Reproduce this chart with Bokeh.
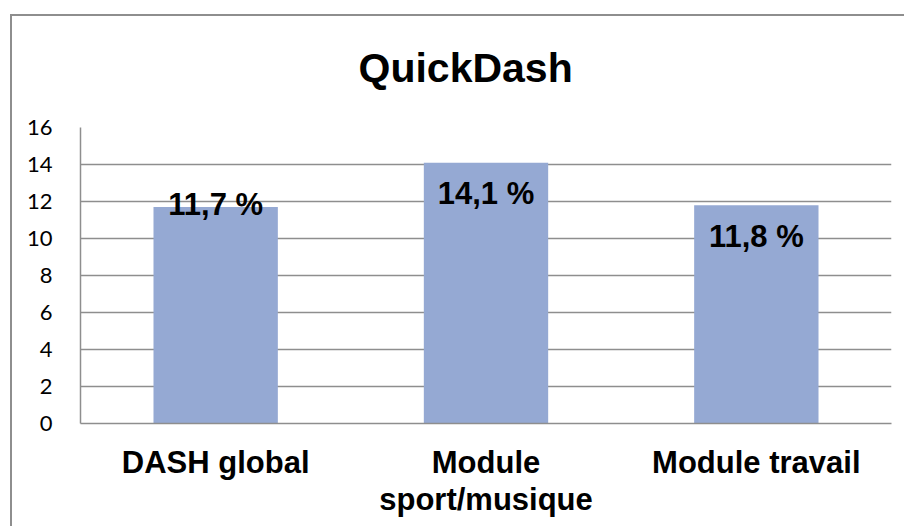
import json
from bokeh.plotting import figure
from bokeh.models import (FactorRange, Range1d, FixedTicker, ColumnDataSource, CategoricalAxis,
                          CustomJSTickFormatter)
from bokeh.core.properties import value
from bokeh.embed import file_html
from bokeh.resources import INLINE

# data
categories = ["DASH global", "Module sport/musique", "Module travail"]
label_line1 = ["DASH global", "Module", "Module travail"]
label_line2 = ["", "sport/musique", ""]
values = [11.7, 14.1, 11.8]
value_labels = ["11,7 %", "14,1 %", "11,8 %"]
y_ticks = [0, 2, 4, 6, 8, 10, 12, 14, 16]

# style: label vertical offsets (screen px, positive = down)
label_dy = [-3, 31, 31]

src = ColumnDataSource(dict(cat=categories, val=values, lab=value_labels, dy=label_dy))

p = figure(
    width=904, height=519,
    x_range=FactorRange(*categories, range_padding=0),
    y_range=Range1d(0, 16),
    output_backend="svg", toolbar_location=None, tools="",
    min_border_left=80, min_border_top=120, min_border_right=13, min_border_bottom=103,
)
p.margin = (7, 0, 0, 0)
# outer chart border (only left and top edges fall inside the window)
grey = "linear-gradient(#8e8e8e, #8e8e8e)"
p.styles = {"background": f"{grey} 10px 7px / 100% 2px no-repeat, {grey} 10px 7px / 2px 100% no-repeat, white"}
p.border_fill_color = None
p.background_fill_color = "white"

p.title.text = "QuickDash"
p.title.text_font = "Liberation Sans"
p.title.text_font_style = "bold"
p.title.text_font_size = "41px"
p.title.text_color = "black"
p.title.align = "left"
p.title.vertical_align = "top"
p.title.offset = 278
p.title.standoff = 69

p.vbar(x="cat", top="val", width=0.46, source=src, fill_color="#95a9d3", line_color=None)

p.text(x="cat", y="val", text="lab", y_offset="dy", source=src,
       text_font=value("Liberation Sans"), text_font_style="bold", text_font_size="31px",
       text_align="center", text_baseline="middle", text_color="black")

p.outline_line_color = None
p.xgrid.grid_line_color = None
p.ygrid.grid_line_color = "#8e8e8e"
p.ygrid.grid_line_width = 1.5

p.yaxis.ticker = FixedTicker(ticks=y_ticks)
p.yaxis.major_tick_line_color = None
p.yaxis.minor_tick_line_color = None
p.yaxis.axis_line_color = "#8e8e8e"
p.yaxis.axis_line_width = 1.5
p.yaxis.major_label_text_font = "Lato"
p.yaxis.major_label_text_font_size = "22px"
p.yaxis.major_label_text_color = "black"
p.yaxis.major_label_standoff = 22


def fmt(labels):
    m = json.dumps(dict(zip(categories, labels)))
    return CustomJSTickFormatter(code=f"const m = {m}; return (tick in m) ? m[tick] : tick;")


xa = p.xaxis[0]
xa.formatter = fmt(label_line1)
xa.major_tick_line_color = None
xa.minor_tick_line_color = None
xa.major_tick_out = 0
xa.major_tick_in = 0
xa.axis_line_color = "#8e8e8e"
xa.axis_line_width = 1.5
xa.major_label_text_font = "Liberation Sans"
xa.major_label_text_font_style = "bold"
xa.major_label_text_font_size = "31px"
xa.major_label_text_color = "black"
xa.major_label_standoff = 21

xa2 = CategoricalAxis(
    formatter=fmt(label_line2),
    major_tick_line_color=None, minor_tick_line_color=None, axis_line_color=None,
    major_tick_out=0, major_tick_in=0,
    major_label_text_font="Liberation Sans", major_label_text_font_style="bold",
    major_label_text_font_size="31px", major_label_text_color="black",
    major_label_standoff=-1,
)
p.add_layout(xa2, "below")

open("out.html", "w").write(file_html(p, INLINE))
